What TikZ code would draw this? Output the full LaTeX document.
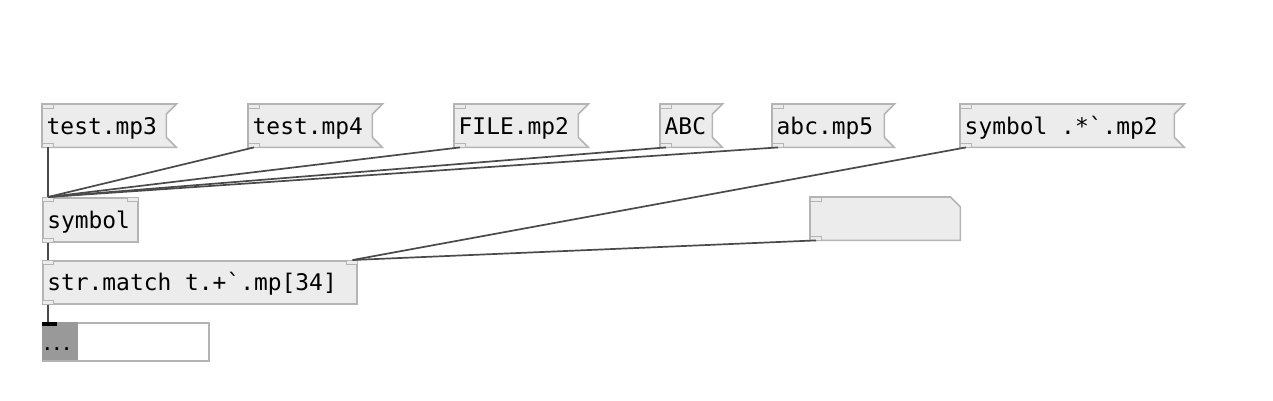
\documentclass[tikz,border=0pt]{standalone}
\usepackage{fontspec}
\setmonofont{DejaVu Sans Mono}
\usetikzlibrary{backgrounds}

\definecolor{boxfill}{HTML}{ECECEC}
\definecolor{boxline}{HTML}{B4B4B4}
\definecolor{wirecol}{HTML}{4A4A4A}
\definecolor{listgray}{HTML}{999999}
\newcommand{\pdfont}{\fontsize{22.9}{27}\selectfont\ttfamily}
\newcommand{\pdsp}{\hspace*{0.602em}}

\tikzset{
    msg/.style={anchor=north west, minimum height=43pt, inner xsep=4.5pt, inner ysep=0pt,
        text height=22pt, text depth=5pt, text width=#1, font=\pdfont},
    obj/.style={msg=#1, draw=boxline, fill=boxfill, line width=1.6pt},
    tab/.style={draw=boxline, fill=boxfill, line width=1pt},
    wire/.style={draw=wirecol, line width=1.7pt},
}

\begin{document}
\begin{tikzpicture}[x=1pt, y=-1pt]
    \useasboundingbox (0,0) rectangle (1273,400);

    % Message boxes (top row)
    \node[msg=125pt] (mpthree) at (42,104) {test.mp3};
    \node[msg=125pt] (mpfour) at (248,104) {test.mp4};
    \node[msg=125pt] (filemsg) at (454,104) {FILE.mp2};
    \node[msg=53pt] (upmsg) at (660,104) {ABC};
    \node[msg=113pt] (lowmsg) at (772,104) {abc.mp5};
    \node[msg=215pt] (symmsg) at (960,104) {symbol\pdsp .*`.mp2};

    % Objects
    \node[obj=86pt, minimum height=44pt] (symobj) at (42,197) {symbol};
    \node[obj=305pt] (matchobj) at (42,260) {str.match\pdsp t.+`.mp[34]};

    % Symbol atom (empty)
    \node[msg=141pt] (atom) at (810,197) {};

    % List box at the bottom
    \node[anchor=north west, draw=boxline, fill=white, line width=1.6pt,
        minimum width=166pt, minimum height=38pt] (listbox) at (42,322) {};
    \node[anchor=north west, fill=listgray, minimum width=36pt, minimum height=38pt,
        inner sep=0pt] (listhead) at (42,322) {};
    \node[anchor=base, font=\fontsize{16}{19}\selectfont\ttfamily\bfseries, inner sep=0pt]
        (dots) at ([shift={(15pt,-28pt)}]listhead.north west) {...};

    % Outlines of messages and atom
    \begin{pgfonlayer}{background}
        \foreach \m in {mpthree, mpfour, filemsg, upmsg, lowmsg, symmsg}
            \filldraw[fill=boxfill, draw=boxline, line width=1.6pt]
                (\m.north west) -- (\m.north east)
                -- ([shift={(-10pt,-10pt)}]\m.north east)
                -- ([shift={(-10pt,10pt)}]\m.south east)
                -- (\m.south east) -- (\m.south west) -- cycle;
        \filldraw[fill=boxfill, draw=boxline, line width=1.6pt]
            (atom.north west) -- ([xshift=-10pt]atom.north east)
            -- ([yshift=-10pt]atom.north east)
            -- (atom.south east) -- (atom.south west) -- cycle;
    \end{pgfonlayer}

    % Inlets and outlets
    \foreach \m in {mpthree, mpfour, filemsg, upmsg, lowmsg, symmsg, symobj, matchobj, atom} {
        \draw[tab] (\m.north west) rectangle ++(11pt,-4pt);
        \draw[tab] (\m.south west) rectangle ++(11pt,4pt);
    }
    \foreach \m in {symobj, matchobj}
        \draw[tab] (\m.north east) rectangle ++(-11pt,-4pt);
    \fill[black] (listbox.north west) rectangle ++(15pt,-4pt);

    % Connections
    \foreach \m in {mpthree, mpfour, filemsg, upmsg, lowmsg}
        \draw[wire] ([xshift=6pt]\m.south west) -- ([xshift=6pt]symobj.north west);
    \draw[wire] ([xshift=6pt]symmsg.south west) -- ([xshift=-5pt]matchobj.north east);
    \draw[wire] ([xshift=6pt]atom.south west) -- ([xshift=-5pt]matchobj.north east);
    \draw[wire] ([xshift=6pt]symobj.south west) -- ([xshift=6pt]matchobj.north west);
    \draw[wire] ([xshift=6pt]matchobj.south west) -- ([xshift=6pt]listbox.north west);

\end{tikzpicture}
\end{document}
